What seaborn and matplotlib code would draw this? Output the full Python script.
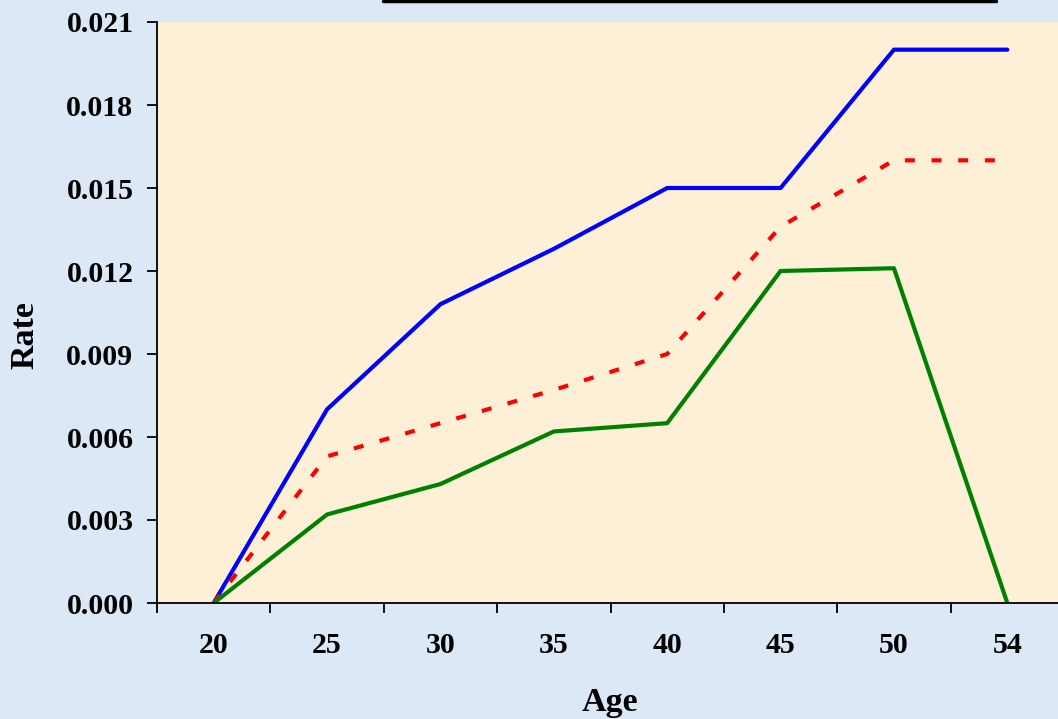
import matplotlib
matplotlib.use("Agg")
import matplotlib.pyplot as plt
import seaborn as sns
import pandas as pd
from matplotlib.lines import Line2D
from matplotlib.ticker import FixedLocator

ages = ["20", "25", "30", "35", "40", "45", "50", "54"]
blue_rate = [0.0, 0.0070, 0.0108, 0.0128, 0.0150, 0.0150, 0.0200, 0.0200]
red_rate = [0.0, 0.0053, 0.0065, 0.0077, 0.0090, 0.0136, 0.0160, 0.0160]
green_rate = [0.0, 0.0032, 0.0043, 0.0062, 0.0065, 0.0120, 0.0121, 0.0]
y_ticks = [0.000, 0.003, 0.006, 0.009, 0.012, 0.015, 0.018, 0.021]

series_names = ["blue", "red", "green"]
df = pd.concat([
    pd.DataFrame({"Age": ages, "Rate": vals, "series": name})
    for name, vals in zip(series_names, [blue_rate, red_rate, green_rate])
], ignore_index=True)

sns.set_style("white")
plt.rcParams["font.family"] = ["Liberation Serif", "DejaVu Serif"]
plt.rcParams["font.weight"] = "bold"
plt.rcParams["text.color"] = "black"
plt.rcParams["xtick.color"] = "black"
plt.rcParams["ytick.color"] = "black"
plt.rcParams["xtick.labelcolor"] = "black"
plt.rcParams["ytick.labelcolor"] = "black"

W, H = 1058, 719
fig = plt.figure(figsize=(W / 100, H / 100), dpi=100)
fig.patch.set_facecolor("#dce8f6")

left = 157 / W
bottom = (H - 603) / H
width = (1064 - 157) / W
height = (603 - 22) / H
ax = fig.add_axes([left, bottom, width, height])
ax.set_facecolor("#fdf0d6")

sns.lineplot(data=df, x="Age", y="Rate", hue="series", style="series",
             palette={"blue": "#0000ff", "red": "#ff0000", "green": "#008000"},
             dashes={"blue": "", "red": (2.4, 4.0), "green": ""},
             linewidth=3, legend=False, ax=ax, sort=False)

ax.set_xlim(-0.5, 7.5)
ax.set_ylim(0, 0.021)
ax.set_yticks(y_ticks)
ax.set_yticklabels([f"{v:.3f}" for v in y_ticks])
ax.set_xticks(range(len(ages)))
ax.set_xticklabels(ages)
ax.xaxis.set_minor_locator(FixedLocator([i - 0.5 for i in range(len(ages) + 1)]))

for s in ["top", "right"]:
    ax.spines[s].set_visible(False)
for s in ["left", "bottom"]:
    ax.spines[s].set_color("black")
    ax.spines[s].set_linewidth(1.3)

ax.tick_params(axis="x", which="major", length=0, pad=21, labelsize=21.5, labelcolor="black")
ax.tick_params(axis="x", which="minor", length=7, width=1.3, direction="out", color="black", bottom=True)
ax.tick_params(axis="y", which="major", length=7, width=1.3, direction="out", color="black", left=True,
               labelsize=21.5, pad=10, labelcolor="black")
for lab in ax.get_xticklabels() + ax.get_yticklabels():
    lab.set_fontweight("bold")

ax.set_xlabel("")
ax.set_ylabel("")
fig.text(610 / W, 1 - 703 / H, "Age", ha="center", va="center", fontsize=24.5, fontweight="bold", color="black")
fig.text(25 / W, 1 - 335 / H, "Rate", ha="center", va="center", rotation=90, fontsize=24.5,
         fontweight="bold", color="black")

fig.add_artist(Line2D([383 / W, 996 / W], [1 - 1 / H, 1 - 1 / H], color="black", linewidth=2.5,
                      transform=fig.transFigure))

fig.savefig("out.png", dpi=100, facecolor=fig.get_facecolor())
